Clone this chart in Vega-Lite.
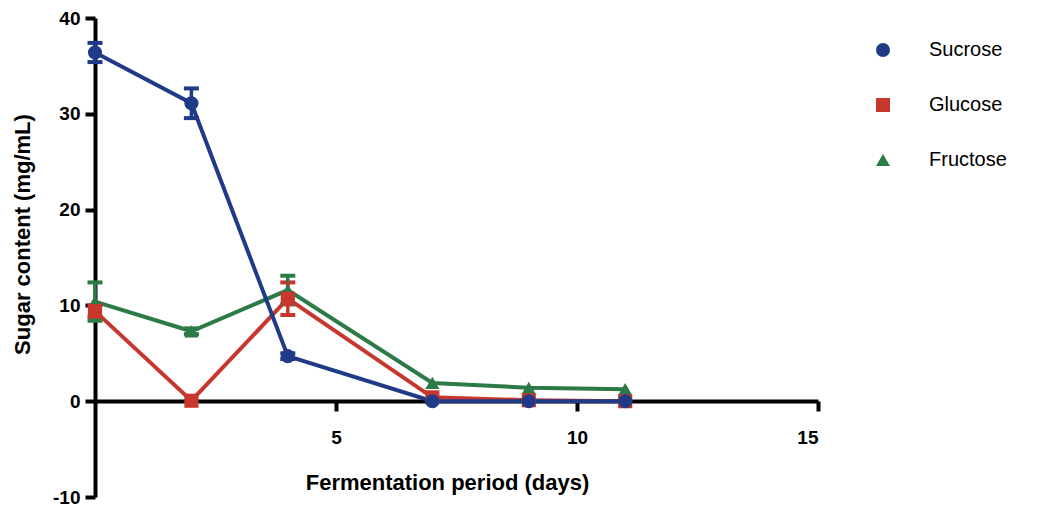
{
  "$schema": "https://vega.github.io/schema/vega-lite/v6.json",
  "width": 723,
  "height": 479,
  "autosize": {"type": "none"},
  "padding": {"left": 95, "top": 18, "right": 242, "bottom": 15},
  "background": "white",
  "config": {
    "view": {"stroke": null},
    "font": "Liberation Sans",
    "axis": {
      "grid": false,
      "domainColor": "black",
      "domainWidth": 4,
      "tickColor": "black",
      "tickWidth": 4,
      "tickSize": 10,
      "labelFont": "Liberation Sans",
      "labelFontWeight": "bold",
      "labelFontSize": 19,
      "labelColor": "black",
      "titleFont": "Liberation Sans",
      "titleFontWeight": "bold",
      "titleFontSize": 22,
      "titleColor": "black"
    },
    "legend": {
      "title": null,
      "orient": "none",
      "legendX": 778,
      "legendY": 22,
      "symbolSize": 196,
      "labelFontSize": 20,
      "labelFont": "Liberation Sans",
      "labelColor": "black",
      "labelOffset": 36,
      "rowPadding": 35,
      "symbolOpacity": 1,
      "symbolStrokeWidth": 0
    }
  },
  "data": {
    "values": [
      {"sugar": "Fructose", "day": 0, "value": 10.4, "err": 2.0},
      {"sugar": "Fructose", "day": 2, "value": 7.3, "err": 0.3},
      {"sugar": "Fructose", "day": 4, "value": 11.6, "err": 1.5},
      {"sugar": "Fructose", "day": 7, "value": 1.9, "err": 0},
      {"sugar": "Fructose", "day": 9, "value": 1.4, "err": 0},
      {"sugar": "Fructose", "day": 11, "value": 1.25, "err": 0},
      {"sugar": "Glucose", "day": 0, "value": 9.4, "err": 0.6},
      {"sugar": "Glucose", "day": 2, "value": 0.05, "err": 0},
      {"sugar": "Glucose", "day": 4, "value": 10.7, "err": 1.7},
      {"sugar": "Glucose", "day": 7, "value": 0.4, "err": 0},
      {"sugar": "Glucose", "day": 9, "value": 0.1, "err": 0},
      {"sugar": "Glucose", "day": 11, "value": 0.0, "err": 0},
      {"sugar": "Sucrose", "day": 0, "value": 36.4, "err": 1.0},
      {"sugar": "Sucrose", "day": 2, "value": 31.1, "err": 1.55},
      {"sugar": "Sucrose", "day": 4, "value": 4.7, "err": 0.3},
      {"sugar": "Sucrose", "day": 7, "value": 0, "err": 0},
      {"sugar": "Sucrose", "day": 9, "value": 0, "err": 0},
      {"sugar": "Sucrose", "day": 11, "value": 0, "err": 0}
    ]
  },
  "encoding": {
    "x": {
      "field": "day",
      "type": "quantitative",
      "scale": {"domain": [0, 15], "nice": false, "zero": false},
      "axis": {
        "title": "Fermentation period (days)",
        "values": [5, 10, 15],
        "offset": -96,
        "labelPadding": 17,
        "titleX": 352,
        "titleY": 81,
        "titleBaseline": "middle"
      }
    },
    "y": {
      "field": "value",
      "type": "quantitative",
      "scale": {"domain": [-10, 40], "nice": false, "zero": false},
      "axis": {
        "title": "Sugar content (mg/mL)",
        "values": [-10, 0, 10, 20, 30, 40],
        "labelExpr": "toString(datum.value)",
        "labelPadding": 5,
        "titleX": -73,
        "titleY": 216,
        "titleBaseline": "middle"
      }
    },
    "color": {
      "field": "sugar",
      "type": "nominal",
      "scale": {"domain": ["Sucrose", "Glucose", "Fructose"], "range": ["#1f3b87", "#c8372e", "#2c7a45"]}
    }
  },
  "layer": [
    {
      "mark": {"type": "line", "strokeWidth": 4}
    },
    {
      "transform": [{"filter": "datum.err > 0"}],
      "mark": {"type": "errorbar", "thickness": 3.5, "opacity": 1, "ticks": {"size": 15, "thickness": 4, "opacity": 1}, "rule": {"opacity": 1}},
      "encoding": {
        "yError": {"field": "err"}
      }
    },
    {
      "mark": {"type": "point", "filled": true, "opacity": 1, "size": 200, "strokeWidth": 0},
      "encoding": {
        "shape": {
          "field": "sugar",
          "type": "nominal",
          "scale": {"domain": ["Sucrose", "Glucose", "Fructose"], "range": ["circle", "square", "triangle-up"]},
          "legend": {
            "encode": {
              "symbols": {
                "update": {
                  "shape": {"signal": "datum.value === 'Sucrose' ? 'M-2.9,-0.28H2.9V0.28H-2.9Z M1,0A1,1 0 1,1 -1,0A1,1 0 1,1 1,0Z' : datum.value === 'Glucose' ? 'M-2.9,-0.28H2.9V0.28H-2.9Z M-0.9,-0.9H0.9V0.9H-0.9Z' : 'M-2.9,-0.28H2.9V0.28H-2.9Z M0,-1.1L1.1,0.75L-1.1,0.75Z'"}
                },
                "shape": {"value": {"expr": "datum.value === 'Sucrose' ? 'M-2.9,-0.28H2.9V0.28H-2.9Z M1,0A1,1 0 1,1 -1,0A1,1 0 1,1 1,0Z' : datum.value === 'Glucose' ? 'M-2.9,-0.28H2.9V0.28H-2.9Z M-0.9,-0.9H0.9V0.9H-0.9Z' : 'M-2.9,-0.28H2.9V0.28H-2.9Z M0,-1.1L1.1,0.75L-1.1,0.75Z'"}}
              }
            }
          }
        }
      }
    }
  ]
}
